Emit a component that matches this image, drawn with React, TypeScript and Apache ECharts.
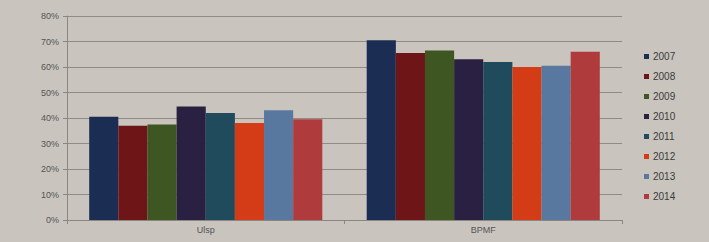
import React, { useEffect, useRef } from "react";
import * as echarts from "echarts";

const categories = ["Ulsp", "BPMF"];
const years = ["2007", "2008", "2009", "2010", "2011", "2012", "2013", "2014"];
const ulspValues = [40.5, 37, 37.5, 44.5, 42, 38, 43, 39.5];
const bpmfValues = [70.5, 65.5, 66.5, 63, 62, 60, 60.5, 66];
const yearColors = ["#1b2d52", "#6e1517", "#3d5622", "#2a2142", "#1f4b5c", "#d33c16", "#5878a0", "#b03b3c"];
const yTicks = { min: 0, max: 80, interval: 10 };

export default function App() {
  const ref = useRef<HTMLDivElement>(null);
  useEffect(() => {
    if (!ref.current) return;
    const chart = echarts.init(ref.current, undefined, { renderer: "svg" });
    const series = years.map((y, i) => ({
      name: y,
      type: "bar" as const,
      data: [ulspValues[i], bpmfValues[i]],
      itemStyle: { color: yearColors[i] },
      barGap: "0%",
      barCategoryGap: "16%",
    }));
    chart.setOption({
      animation: false,
      backgroundColor: "#c9c4be",
      textStyle: { fontFamily: "Liberation Sans" },
      grid: { left: 67, right: 87, top: 16, bottom: 22 },
      legend: {
        orient: "vertical",
        left: 639,
        top: 46,
        itemWidth: 5,
        itemHeight: 5,
        itemGap: 9,
        icon: "rect",
        textStyle: { fontSize: 10, color: "#3a3a3a", lineHeight: 11, padding: [0, 0, 0, -1] },
        data: years,
      },
      xAxis: {
        type: "category",
        data: categories,
        axisLine: { show: true, lineStyle: { color: "#8a8680", width: 1 } },
        axisTick: { show: true, length: 4, lineStyle: { color: "#8a8680" } },
        axisLabel: { fontSize: 9, color: "#555", margin: 5 },
      },
      yAxis: {
        type: "value",
        min: yTicks.min,
        max: yTicks.max,
        interval: yTicks.interval,
        axisLine: { show: true, lineStyle: { color: "#8a8680", width: 1 } },
        axisTick: { show: true, length: 4, lineStyle: { color: "#8a8680" } },
        axisLabel: { fontSize: 9, color: "#555", margin: 8, formatter: "{value}%" },
        splitLine: { show: true, lineStyle: { color: "#8f8b85", width: 1 } },
      },
      series,
    });
    return () => chart.dispose();
  }, []);
  return (
    <div
      ref={ref}
      style={{ position: "fixed", left: 0, top: 0, width: 709, height: 242 }}
    />
  );
}
